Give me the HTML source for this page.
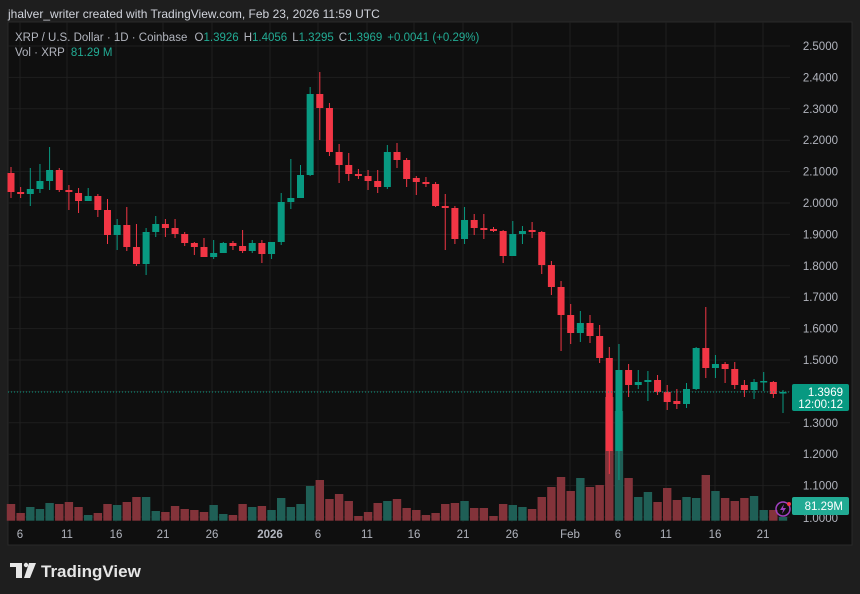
<!DOCTYPE html>
<html><head><meta charset="utf-8"><style>
html,body{margin:0;padding:0;background:#1e1e1e;}
body{width:860px;height:594px;overflow:hidden;font-family:"Liberation Sans",sans-serif;}
</style></head><body>
<svg id="s" width="860" height="594" xmlns="http://www.w3.org/2000/svg" style="display:block">
<rect x="0" y="0" width="860" height="594" fill="#1e1e1e"/>
<text x="8" y="18" font-size="12" fill="#d1d4dc" font-family="Liberation Sans">jhalver_writer created with TradingView.com, Feb 23, 2026 11:59 UTC</text>
<rect x="8" y="22" width="844" height="523" fill="#0f0f0f" stroke="#2a2a2a" stroke-width="1"/>
<g id="grid"></g>
<g id="vol"></g>
<g id="cand"></g>
<line x1="8" y1="392" x2="790" y2="392" stroke="#089981" stroke-width="1" stroke-dasharray="1,2"/>
<g id="axis" font-size="11.5" fill="#b2b5be" font-family="Liberation Sans"></g>
<rect x="792" y="384" width="57" height="27" rx="2" fill="#089981"/>
<text x="843" y="396" font-size="11.5" fill="#fff" text-anchor="end">1.3969</text>
<text x="843" y="408" font-size="11.5" fill="#fff" text-anchor="end">12:00:12</text>
<rect x="792" y="497" width="57" height="18" rx="2" fill="#22ab94"/>
<text x="843" y="510" font-size="11.5" fill="#fff" text-anchor="end">81.29M</text>
<circle cx="783" cy="509" r="7" fill="none" stroke="#a040c0" stroke-width="1.5"/>
<path d="M784 504 L780 510 L783 510 L782 514 L786 508 L783 508 Z" fill="#a040c0"/>
<circle cx="789" cy="504" r="2" fill="#f23645"/>
<text x="15" y="41" font-size="11.5" fill="#b2b5be">XRP / U.S. Dollar · 1D · Coinbase <tspan dx="4">O</tspan><tspan fill="#22ab94">1.3926</tspan><tspan dx="5">H</tspan><tspan fill="#22ab94">1.4056</tspan><tspan dx="5">L</tspan><tspan fill="#22ab94">1.3295</tspan><tspan dx="5">C</tspan><tspan fill="#22ab94">1.3969</tspan><tspan dx="5" fill="#22ab94">+0.0041 (+0.29%)</tspan></text>
<text x="15" y="56" font-size="11.5" fill="#b2b5be">Vol · XRP <tspan dx="3" fill="#22ab94">81.29 M</tspan></text>
<g fill="#e6e6e6">
<rect x="10" y="563" width="12" height="4"/>
<rect x="16" y="563" width="6" height="15"/>
<circle cx="26" cy="565" r="2.2"/>
<path d="M29 563 L36 563 L30 578 L24 578 Z"/>
</g>
<text x="41" y="577" font-size="17" font-weight="bold" fill="#e6e6e6">TradingView</text>
</svg>
<script>
var NS="http://www.w3.org/2000/svg";
function el(p,t,a){var e=document.createElementNS(NS,t);for(var k in a)e.setAttribute(k,a[k]);document.getElementById(p).appendChild(e);return e;}
for(var k=0;k<=15;k++){var yy=46+31.4*k;el("grid","line",{x1:8,x2:790,y1:yy,y2:yy,stroke:"#1f1f1f","stroke-width":1});}
var xl=[[20,"6"],[67,"11"],[116,"16"],[163,"21"],[212,"26"],[270,"2026"],[318,"6"],[367,"11"],[414,"16"],[463,"21"],[512,"26"],[570,"Feb"],[618,"6"],[666,"11"],[715,"16"],[763,"21"]];
xl.forEach(function(d){el("grid","line",{x1:d[0],x2:d[0],y1:22,y2:522,stroke:"#1f1f1f","stroke-width":1});
var t=el("axis","text",{x:d[0],y:538,"text-anchor":"middle"});if(d[1]=="2026")t.setAttribute("font-weight","bold");t.textContent=d[1];});
for(var k=0;k<15;k++){var p=(2.5-0.1*k).toFixed(4);var yy=46+31.4*k;
var t=el("axis","text",{x:838,y:yy+4,"text-anchor":"end"});t.textContent=p;}
var t0=el("axis","text",{x:838,y:522,"text-anchor":"end"});t0.textContent="1.0000";
var C=[[173,192,167,198],[192,194,187,198],[194,189,168,206],[189,181,164,193],[181,170,147,190],[170,190,168,192],[190,192,185,210],[193,201,188,213],[201,196,188,201],[196,210,194,217],
[210,235,199,244],[235,225,219,250],[225,247,207,251],[247,264,224,266],[264,232,228,275],[232,224,216,237],[224,228,219,237],[228,234,219,238],[234,243,232,246],[243,247,242,255],
[247,257,238,257],[257,253,240,259],[253,243,242,253],[243,246,241,250],[246,251,230,253],[251,243,240,253],[243,254,240,263],[254,242,242,259],[242,202,193,245],[202,198,159,209],
[198,175,165,198],[175,94,87,176],[94,108,72,140],[108,152,103,156],[152,165,144,183],[165,174,153,181],[174,176,169,179],[176,181,170,190],[181,187,170,193],[187,152,145,189],
[152,160,143,168],[160,179,158,187],[178,182,176,195],[182,184,177,187],[184,206,182,207],[206,208,194,250],[208,239,206,244],[239,220,207,244],[220,228,214,235],[228,230,214,239],
[229,231,227,232],[231,256,230,263],[256,234,221,256],[234,231,226,244],[230,232,222,238],[232,265,231,274],[265,287,261,295],[287,315,281,351],[315,333,304,344],[333,323,311,342],
[323,336,315,343],[336,358,325,363],[358,451,347,474],[451,370,344,480],[370,385,364,397],[385,382,370,389],[382,380,371,401],[380,392,375,395],[392,402,385,410],[401,404,389,409],
[404,389,383,408],[389,348,347,390],[348,368,307,378],[368,364,355,378],[364,369,362,383],[369,385,362,389],[385,390,380,397],[390,382,379,399],[382,381,372,391],[382,394,381,398],[393,392,390,413]];
var V=[504,513,507,509,503,504,502,507,515,513,504,505,502,497,497,511,512,506,509,510,512,505,514,515,504,507,506,510,498,507,
504,486,480,499,494,501,516,512,503,501,499,508,510,515,513,504,503,501,508,508,516,504,505,507,509,497,487,477,491,478,487,485,397,411,
478,497,492,502,488,500,497,498,475,491,498,501,498,496,510,510,517];
for(var i=0;i<C.length;i++){var cx=11+i*9.65;var c=C[i];var up=c[1]<c[0];
var vc=up?"#1f5f56":"#83333a";var vt=V[i];el("vol","rect",{x:cx-4.2,y:vt,width:8.4,height:520.7-vt,fill:vc});
var col=up?"#089981":"#f23645";
el("cand","line",{x1:cx,x2:cx,y1:c[2],y2:c[3],stroke:col,"stroke-width":1});
var bt=Math.min(c[0],c[1]),bh=Math.max(1.5,Math.abs(c[1]-c[0]));
el("cand","rect",{x:cx-3.5,y:bt,width:7,height:bh,fill:col});}
</script>
</body></html>
